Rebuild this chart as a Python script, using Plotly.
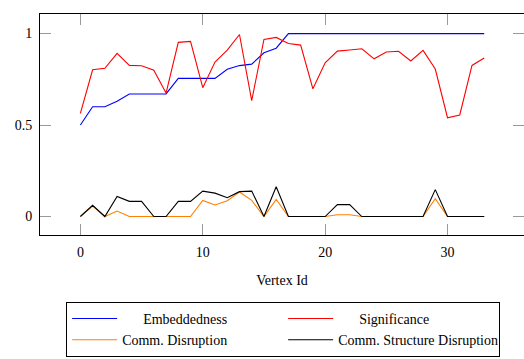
import plotly.graph_objects as go

vertex = list(range(34))
embeddedness = [0.5, 0.6, 0.6, 0.63, 0.67, 0.67, 0.67, 0.67, 0.755, 0.755, 0.755, 0.755,
                0.805, 0.825, 0.833, 0.895, 0.92] + [1.0] * 17
significance = [0.564, 0.802, 0.81, 0.892, 0.826, 0.824, 0.80, 0.675, 0.952, 0.957, 0.704,
                0.844, 0.91, 0.995, 0.633, 0.968, 0.979, 0.946, 0.937, 0.698, 0.84, 0.904,
                0.91, 0.917, 0.862, 0.899, 0.903, 0.85, 0.908, 0.806, 0.54, 0.555, 0.826, 0.866]
comm_disruption = [0, 0.057, 0, 0.03, 0, 0, 0, 0, 0, 0, 0.088, 0.063, 0.086, 0.134, 0.088, 0,
                   0.094, 0, 0, 0, 0, 0.01, 0.01, 0, 0, 0, 0, 0, 0, 0.097, 0, 0, 0, 0]
comm_structure = [0, 0.061, 0, 0.11, 0.083, 0.083, 0, 0, 0.083, 0.083, 0.139, 0.128, 0.103,
                  0.136, 0.139, 0, 0.163, 0, 0, 0, 0, 0.065, 0.065, 0, 0, 0, 0, 0, 0, 0.147,
                  0, 0, 0, 0]

x_ticks = [0, 10, 20, 30]
y_ticks = [0, 0.5, 1]
y_tick_labels = ["0", "0.5", "1"]

FONT = "Liberation Serif"
NB = "\u00a0"

fig = go.Figure()
series = [
    (NB * 6 + "Embeddedness", embeddedness, "#0000ff"),
    (NB * 6 + "Significance", significance, "#ff0000"),
    ("Comm. Disruption", comm_disruption, "#ff8000"),
    ("Comm. Structure Disruption", comm_structure, "#000000"),
]
for label, vals, col in series:
    fig.add_trace(go.Scatter(x=vertex, y=vals, mode="lines", name=label,
                             line=dict(color=col, width=1.1)))

# invisible trace for right-side ticks
fig.add_trace(go.Scatter(x=[0], y=[0], yaxis="y2", mode="lines", showlegend=False,
                         line=dict(width=0), hoverinfo="skip"))

fig.update_layout(
    width=524, height=359,
    margin=dict(l=40, r=0, t=14, b=124, autoexpand=False),
    plot_bgcolor="white", paper_bgcolor="white",
    font=dict(family=FONT, size=14, color="black"),
    xaxis=dict(range=[-3.3, 36.25], tickvals=x_ticks, ticks="inside", ticklen=11,
               tickcolor="#999", tickwidth=1, showline=True, linecolor="black",
               linewidth=1, mirror="ticks", showgrid=False, zeroline=False,
               ticklabelstandoff=4,
               title=dict(text="Vertex Id", standoff=16, font=dict(size=14))),
    yaxis=dict(range=[-0.101, 1.107], tickvals=y_ticks, ticktext=y_tick_labels,
               ticks="inside", ticklen=11, tickcolor="#999", tickwidth=1,
               showline=True, linecolor="black", linewidth=1, showgrid=False,
               zeroline=False, ticklabelstandoff=4),
    yaxis2=dict(range=[-0.101, 1.107], tickvals=y_ticks, overlaying="y", side="right",
                ticks="inside", ticklen=11, tickcolor="#999", tickwidth=1,
                showticklabels=False, showline=False, showgrid=False, zeroline=False),
    legend=dict(orientation="h", x=0.054, y=-0.303, xanchor="left", yanchor="top",
                bordercolor="black", borderwidth=1, entrywidth=156,
                font=dict(family=FONT, size=14), tracegroupgap=0,
                itemwidth=45),
    showlegend=True,
)

fig.write_html("out.html")
